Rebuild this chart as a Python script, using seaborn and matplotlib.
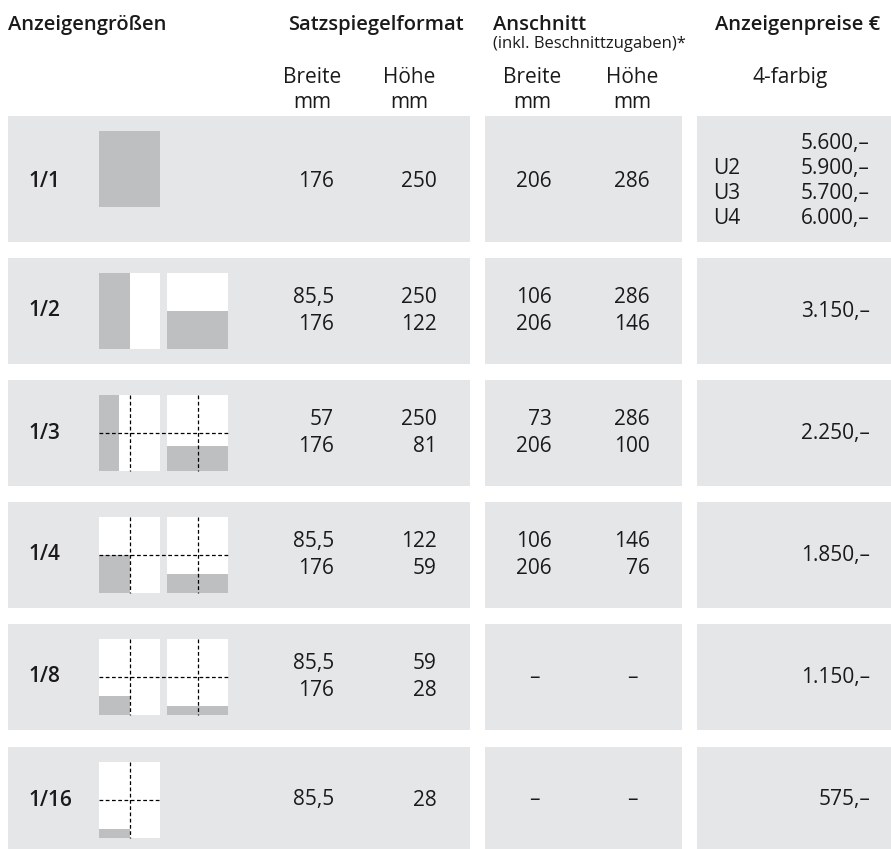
import matplotlib
matplotlib.use("Agg")
import matplotlib.pyplot as plt
from matplotlib.patches import Rectangle
import seaborn as sns

# table content
sizes = ["1/1", "1/2", "1/3", "1/4", "1/8", "1/16"]
satz_breite = [["176"], ["85,5", "176"], ["57", "176"], ["85,5", "176"], ["85,5", "176"], ["85,5"]]
satz_hoehe = [["250"], ["250", "122"], ["250", "81"], ["122", "59"], ["59", "28"], ["28"]]
anschnitt_breite = [["206"], ["106", "206"], ["73", "206"], ["106", "206"], ["–"], ["–"]]
anschnitt_hoehe = [["286"], ["286", "146"], ["286", "100"], ["146", "76"], ["–"], ["–"]]
price_tags = [["", "U2", "U3", "U4"], [""], [""], [""], [""], [""]]
prices = [["5.600,–", "5.900,–", "5.700,–", "6.000,–"], ["3.150,–"], ["2.250,–"],
          ["1.850,–"], ["1.150,–"], ["575,–"]]
# page thumbnails: (width share, height share from bottom) of the grey ad area
thumbs = [[(1, 1)], [(0.5, 1), (1, 0.5)], [(1 / 3, 1), (1, 1 / 3)],
          [(0.5, 0.5), (1, 0.25)], [(0.5, 0.25), (1, 0.125)], [(0.5, 0.125)]]
show_guides = [False, False, True, True, True, True]

BAND = "#e5e6e8"
AD = "#bebfc1"
INK = "#1a1a1a"

sns.set_theme(style="white")
plt.rcParams["font.family"] = ["Open Sans", "DejaVu Sans"]

fig = plt.figure(figsize=(8.91, 8.49), dpi=100)
ax = fig.add_axes([0, 0, 1, 1])
ax.set_xlim(0, 891)
ax.set_ylim(849, 0)
ax.axis("off")

fs = 15
hfs = 14.5
# header
ax.text(8, 25, "Anzeigengrößen", fontsize=hfs, fontweight="semibold", color=INK, va="center")
ax.text(288, 25, "Satzspiegelformat", fontsize=hfs, fontweight="semibold", color=INK, va="center")
ax.text(493, 25, "Anschnitt", fontsize=hfs, fontweight="semibold", color=INK, va="center")
ax.text(493, 44, "(inkl. Beschnittzugaben)*", fontsize=12, color=INK, va="center")
ax.text(880, 25, "Anzeigenpreise €", fontsize=hfs, fontweight="semibold", color=INK,
        va="center", ha="right")
for xc, word in ((312, "Breite"), (409, "Höhe"), (532, "Breite"), (632, "Höhe")):
    ax.text(xc, 77, word, fontsize=fs, color=INK, ha="center", va="center")
    ax.text(xc, 102, "mm", fontsize=fs, color=INK, ha="center", va="center")
ax.text(790, 77, "4-farbig", fontsize=fs, color=INK, ha="center", va="center")

row_tops = [116, 258, 380, 502, 624, 747]
row_heights = [126, 106, 106, 106, 106, 106]


def cell(lines, x, yc, ha, step=27):
    n = len(lines)
    for i, s in enumerate(lines):
        ax.text(x, yc + (i - (n - 1) / 2) * step, s, fontsize=fs, color=INK, ha=ha, va="center")


for r, size in enumerate(sizes):
    top, h = row_tops[r], row_heights[r]
    yc = top + h / 2 + (2 if r == 0 else 0)
    ax.add_patch(Rectangle((8, top), 462, h, color=BAND, lw=0))
    ax.add_patch(Rectangle((485, top), 197, h, color=BAND, lw=0))
    ax.add_patch(Rectangle((697, top), 194, h, color=BAND, lw=0))

    ax.text(28, yc, size, fontsize=fs, fontweight="semibold", color=INK, va="center")

    # thumbnails
    ty = top + 15
    tw, th = 61, 76
    for k, (fw, fh) in enumerate(thumbs[r]):
        x0 = 99 + k * 68
        ax.add_patch(Rectangle((x0, ty), tw, th, color="white", lw=0))
        ax.add_patch(Rectangle((x0, ty + th * (1 - fh)), tw * fw, th * fh, color=AD, lw=0))
        if show_guides[r]:
            ax.plot([x0 + tw / 2] * 2, [ty, ty + th], color="black", lw=0.9, ls=(0, (3, 2)))
    if show_guides[r]:
        x_end = 99 + (len(thumbs[r]) - 1) * 68 + tw
        ax.plot([99, x_end], [ty + th / 2] * 2, color="black", lw=0.9, ls=(0, (3, 2)))

    cell(satz_breite[r], 334, yc, "right")
    cell(satz_hoehe[r], 437, yc, "right")
    if anschnitt_breite[r] == ["–"]:
        cell(anschnitt_breite[r], 534, yc, "center")
        cell(anschnitt_hoehe[r], 632, yc, "center")
    else:
        cell(anschnitt_breite[r], 552, yc, "right")
        cell(anschnitt_hoehe[r], 650, yc, "right")
    cell(price_tags[r], 713, yc, "left", step=25.3)
    cell(prices[r], 870, yc, "right", step=25.3)

fig.savefig("out.png", dpi=100)
